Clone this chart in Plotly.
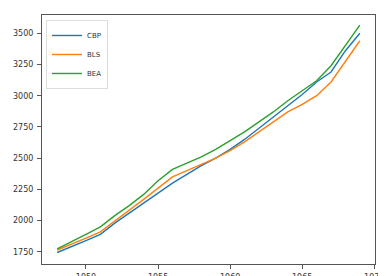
import plotly.graph_objects as go

years = list(range(1948, 1970))
cbp = [1745, 1790, 1840, 1890, 1980, 2060, 2140, 2220, 2300, 2370, 2440,
       2500, 2570, 2650, 2740, 2830, 2920, 3010, 3110, 3190, 3360, 3500]
bls = [1765, 1810, 1860, 1910, 1995, 2080, 2170, 2260, 2350, 2400, 2450,
       2500, 2560, 2630, 2710, 2790, 2870, 2930, 3000, 3110, 3270, 3440]
bea = [1775, 1830, 1890, 1950, 2040, 2120, 2210, 2320, 2410, 2460, 2510,
       2570, 2640, 2710, 2790, 2870, 2960, 3040, 3120, 3240, 3400, 3565]
series_names = ["CBP", "BLS", "BEA"]
colors = ["#1f77b4", "#ff7f0e", "#2ca02c"]
x_ticks = [1950, 1955, 1960, 1965, 1970]
y_ticks = [1750, 2000, 2250, 2500, 2750, 3000, 3250, 3500]

fig = go.Figure()
for name, vals, c in zip(series_names, [cbp, bls, bea], colors):
    fig.add_trace(go.Scatter(x=years, y=vals, mode="lines", name=name,
                             line=dict(color=c, width=1.4)))

axis_common = dict(showgrid=False, zeroline=False, showline=True, mirror=True,
                   linecolor="#555", linewidth=1, ticks="outside", ticklen=4,
                   tickcolor="#555", automargin=False,
                   tickfont=dict(size=8, color="#333", family="DejaVu Sans"))
fig.update_xaxes(range=[1946.95, 1970.05], tickvals=x_ticks,
                 ticklabelstandoff=1, **axis_common)
fig.update_yaxes(range=[1653, 3646], tickvals=y_ticks,
                 ticklabelstandoff=2, **axis_common)

# the page body has an 8px default margin, so the figure is sized to fit the window
fig.update_layout(
    width=378, height=268,
    margin=dict(l=34, r=11, t=7, b=12, autoexpand=False),
    paper_bgcolor="white", plot_bgcolor="white",
    showlegend=True,
    legend=dict(x=0.012, y=0.98, xanchor="left", yanchor="top",
                bgcolor="white", bordercolor="#ddd", borderwidth=1,
                font=dict(size=7, color="#333", family="DejaVu Sans"),
                itemwidth=30, tracegroupgap=0),
)
fig.write_html("out.html")
